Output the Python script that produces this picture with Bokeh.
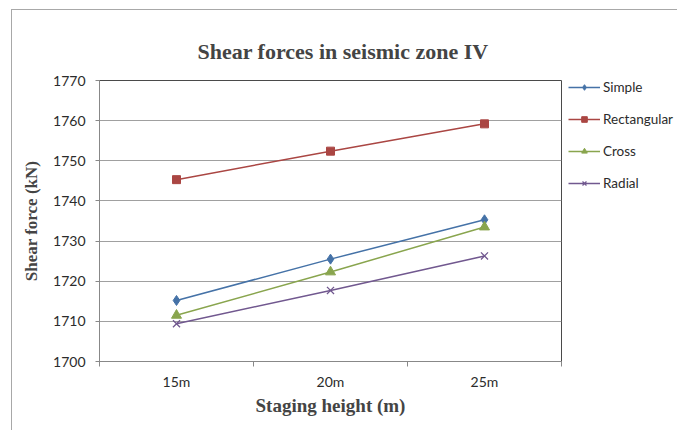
from bokeh.plotting import figure
from bokeh.models import (FactorRange, Range1d, LinearAxis, FixedTicker,
                          Legend, LegendItem, CategoricalAxis)
from bokeh.embed import file_html
from bokeh.resources import INLINE

heights = ["15m", "20m", "25m"]
simple = [1715.2, 1725.5, 1735.3]
rectangular = [1745.3, 1752.4, 1759.2]
cross = [1711.5, 1722.3, 1733.5]
radial = [1709.4, 1717.7, 1726.3]
y_ticks = [1700, 1710, 1720, 1730, 1740, 1750, 1760, 1770]

series = [
    ("Simple", simple, "#4572A7", "diamond", 10),
    ("Rectangular", rectangular, "#AA4643", "square", 8),
    ("Cross", cross, "#89A54E", "triangle", 10),
    ("Radial", radial, "#71588F", "x", 10),
]

p = figure(frame_width=462, frame_height=281, x_range=FactorRange(*heights),
           y_range=Range1d(1700, 1770), output_backend="svg",
           toolbar_location=None, x_axis_location=None,
           min_border_left=87, min_border_right=0,
           min_border_top=70, min_border_bottom=69)
p.styles = {"margin-left": "11px", "margin-top": "9px",
            "border-left": "1px solid #a8a8a8", "border-top": "1px solid #a8a8a8"}

p.title.text = "Shear forces in seismic zone IV"
p.title.text_font = "Liberation Serif"
p.title.text_font_style = "bold"
p.title.text_font_size = "22px"
p.title.align = "left"
p.title.offset = 98
p.title.standoff = 34

p.outline_line_color = "#4a4a4a"
p.xgrid.grid_line_color = None
p.ygrid.grid_line_color = "#a0a0a0"
p.ygrid.ticker = FixedTicker(ticks=y_ticks)

yax = p.yaxis[0]
yax.ticker = FixedTicker(ticks=y_ticks)
yax.minor_tick_line_color = None
yax.major_tick_in = 0
yax.major_tick_out = 4
yax.axis_line_color = "#888888"
yax.major_tick_line_color = "#888888"
yax.major_label_text_font = "Lato"
yax.major_label_text_font_size = "14px"
yax.major_label_text_color = "#2b2b2b"
yax.major_label_standoff = 10
yax.axis_label = "Shear force (kN)"
yax.axis_label_text_font = "Liberation Serif"
yax.axis_label_text_font_style = "bold"
yax.axis_label_text_font_size = "17px"
yax.axis_label_standoff = 9

# tick marks at category boundaries (synthetic coordinates 0..n)
tick_ax = LinearAxis(ticker=FixedTicker(ticks=list(range(len(heights) + 1))))
tick_ax.major_tick_in = 0
tick_ax.major_tick_out = 5
tick_ax.minor_tick_line_color = None
tick_ax.axis_line_color = "#888888"
tick_ax.major_tick_line_color = "#888888"
tick_ax.major_label_text_font_size = "0px"
tick_ax.major_label_text_color = None
tick_ax.major_label_standoff = 0
p.add_layout(tick_ax, "below")

cat_ax = CategoricalAxis()
cat_ax.axis_line_color = None
cat_ax.major_tick_line_color = None
cat_ax.major_label_text_font = "Lato"
cat_ax.major_label_text_font_size = "14px"
cat_ax.major_label_text_color = "#2b2b2b"
cat_ax.major_label_standoff = 0
cat_ax.axis_label = "Staging height (m)"
cat_ax.axis_label_text_font = "Liberation Serif"
cat_ax.axis_label_text_font_style = "bold"
cat_ax.axis_label_text_font_size = "19px"
cat_ax.axis_label_standoff = 2
p.add_layout(cat_ax, "below")

items = []
for name, vals, color, marker, size in series:
    r1 = p.line(heights, vals, line_color=color, line_width=1.5)
    r2 = p.scatter(heights, vals, marker=marker, size=size,
                   fill_color=color, line_color=color,
                   line_width=1.3 if marker == "x" else 1)
    items.append(LegendItem(label=name, renderers=[r1, r2]))

legend = Legend(items=items, location=(7, 170), glyph_width=32,
                glyph_height=14, label_height=14, spacing=16,
                label_standoff=3, padding=0, margin=0,
                border_line_color=None, background_fill_alpha=0,
                label_text_font="Lato", label_text_font_size="13.5px",
                label_text_color="#2b2b2b")
p.add_layout(legend, "right")

open("out.html", "w").write(file_html(p, INLINE))
